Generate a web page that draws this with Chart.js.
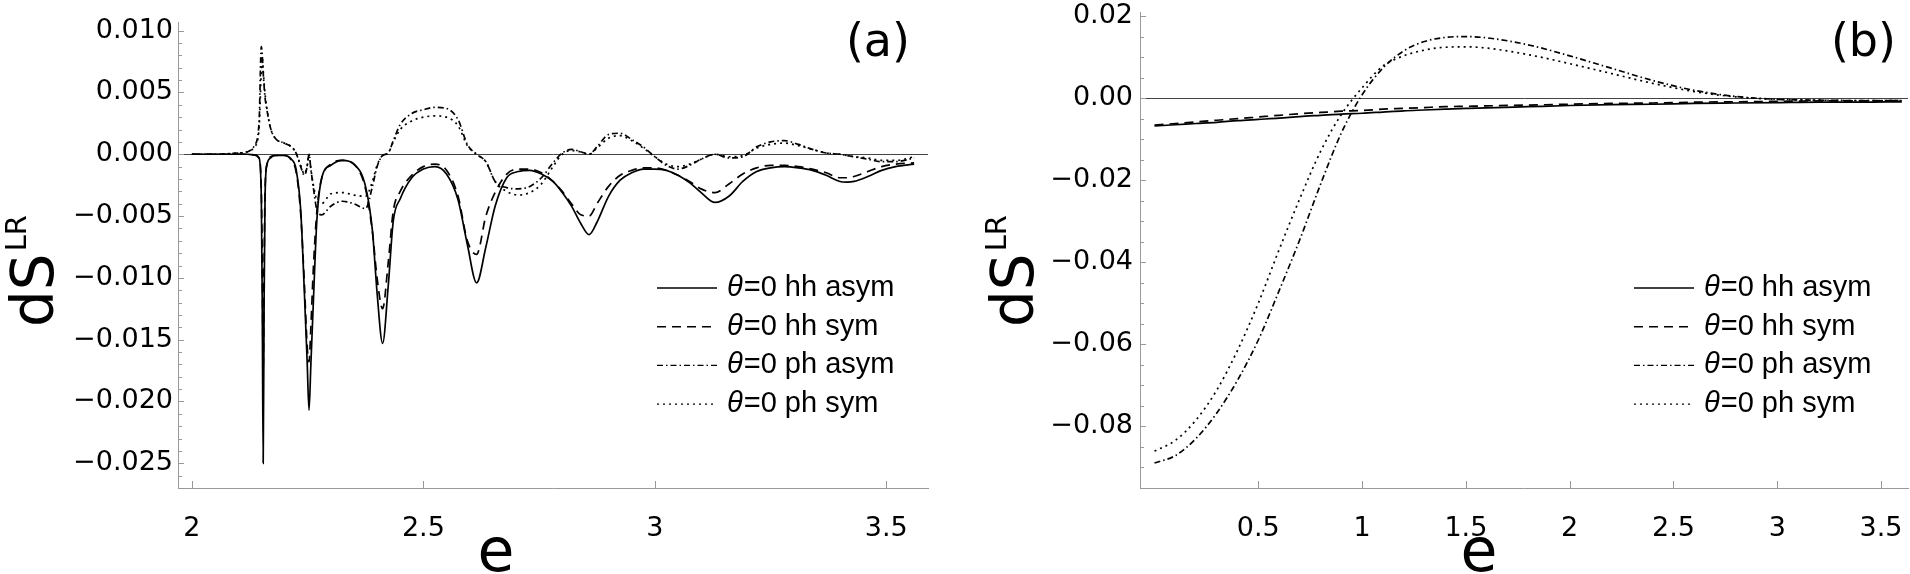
<!DOCTYPE html>
<html>
<head>
<meta charset="utf-8">
<script src="https://cdn.jsdelivr.net/npm/chart.js@4.4.1/dist/chart.umd.min.js"></script>
<style>
html,body{margin:0;padding:0;background:#fff;}
#wrap{position:relative;width:1910px;height:574px;overflow:hidden;}
.panel{position:absolute;top:0;width:955px;height:574px;}
</style>
</head>
<body>
<div id="wrap">
  <div class="panel" style="left:0"><canvas id="chartA" width="955" height="574"></canvas></div>
  <div class="panel" style="left:955px"><canvas id="chartB" width="955" height="574"></canvas></div>
</div>
<script>
// Data
const seriesNames = ['θ=0 hh asym', 'θ=0 hh sym', 'θ=0 ph asym', 'θ=0 ph sym'];

// panel (a)
const eA = [2.00, 2.05, 2.10, 2.12, 2.135, 2.145, 2.150, 2.152, 2.154, 2.156,
  2.158, 2.162, 2.17, 2.18, 2.20, 2.215, 2.225, 2.235, 2.243, 2.249,
  2.253, 2.257, 2.262, 2.27, 2.28, 2.30, 2.325, 2.35, 2.375, 2.39,
  2.40, 2.412, 2.424, 2.435, 2.45, 2.475, 2.50, 2.525, 2.55, 2.575,
  2.595, 2.615, 2.635, 2.655, 2.68, 2.705, 2.73, 2.755, 2.78, 2.80,
  2.82, 2.84, 2.858, 2.875, 2.90, 2.925, 2.95, 2.975, 3.00, 3.025,
  3.05, 3.075, 3.10, 3.13, 3.16, 3.19, 3.22, 3.25, 3.28, 3.31,
  3.34, 3.37, 3.40, 3.415, 3.43, 3.46, 3.49, 3.52, 3.56];
const hhAsymA = [0, 0, 0, 0, -0.00005, -0.0003, -0.0035, -0.012, -0.025, -0.012,
  -0.0035, -0.0009, -0.0003, -0.0001, -0.0001, -0.0004, -0.0012, -0.0045, -0.0112, -0.0168,
  -0.0207, -0.0170, -0.0123, -0.0053, -0.0020, -0.0009, -0.0005, -0.0008, -0.0026, -0.0062,
  -0.0112, -0.0153, -0.0107, -0.0054, -0.0036, -0.0019, -0.0012, -0.0010, -0.0016, -0.0037,
  -0.0073, -0.0104, -0.0075, -0.0042, -0.0019, -0.0014, -0.0013, -0.0016, -0.0022, -0.0031,
  -0.0042, -0.0056, -0.0065, -0.0055, -0.0034, -0.0021, -0.0015, -0.0012, -0.0012, -0.0013,
  -0.0017, -0.0023, -0.0031, -0.0039, -0.0034, -0.0022, -0.0014, -0.0011, -0.0010, -0.0011,
  -0.0013, -0.0017, -0.0022, -0.00225, -0.0022, -0.0018, -0.0013, -0.0010, -0.0008];
const hhSymA = [0, 0, 0, 0, -0.00005, -0.0003, -0.0030, -0.0090, -0.0175, -0.0090,
  -0.0030, -0.0008, -0.0002, -0.0001, -0.0001, -0.0005, -0.0014, -0.0048, -0.0105, -0.0155,
  -0.0168, -0.0140, -0.0095, -0.0046, -0.0020, -0.0008, -0.0005, -0.0008, -0.0028, -0.0063,
  -0.0100, -0.0125, -0.0088, -0.0046, -0.0030, -0.0017, -0.0010, -0.0008, -0.0013, -0.0034,
  -0.0070, -0.0081, -0.0050, -0.0031, -0.0016, -0.0012, -0.0012, -0.0015, -0.0022, -0.0030,
  -0.0040, -0.0049, -0.0050, -0.0040, -0.0026, -0.0017, -0.0013, -0.0011, -0.0011, -0.0013,
  -0.0017, -0.0022, -0.0028, -0.0031, -0.0024, -0.0016, -0.0011, -0.0009, -0.0009, -0.0010,
  -0.0012, -0.0015, -0.0019, -0.0019, -0.0018, -0.0014, -0.0010, -0.0008, -0.0007];
const phAsymA = [0, 0, 0.0001, 0.0002, 0.0007, 0.0025, 0.0087, 0.0080, 0.0066, 0.0055,
  0.0046, 0.0036, 0.0021, 0.0013, 0.0009, 0.0006, 0.0001, -0.0010, -0.0017, -0.0010,
  0.0000, -0.0012, -0.0026, -0.0045, -0.0049, -0.0042, -0.0038, -0.0040, -0.0044, -0.0026,
  -0.0010, -0.0001, 0.0001, 0.0011, 0.0024, 0.0033, 0.0036, 0.0038, 0.0037, 0.0028,
  0.0008, 0.0000, -0.0006, -0.0022, -0.0027, -0.0028, -0.0026, -0.0019, -0.0007, 0.0001,
  0.0004, 0.0002, 0.0000, 0.0006, 0.0016, 0.0017, 0.0012, 0.0006, -0.0002, -0.0009,
  -0.0012, -0.0009, -0.0004, 0.0000, -0.0003, -0.0002, 0.0006, 0.0010, 0.0011, 0.0008,
  0.0004, 0.0001, 0.0000, -0.0001, -0.0002, -0.0004, -0.0006, -0.0006, -0.0003];
const phSymA = [0, 0, 0.0001, 0.0002, 0.0006, 0.0020, 0.0068, 0.0078, 0.0068, 0.0058,
  0.0049, 0.0037, 0.0021, 0.0013, 0.0009, 0.0006, 0.0001, -0.0009, -0.0016, -0.0009,
  0.0000, -0.0012, -0.0024, -0.0037, -0.0040, -0.0032, -0.0031, -0.0033, -0.0034, -0.0022,
  -0.0009, -0.0001, 0.0001, 0.0010, 0.0020, 0.0027, 0.0030, 0.0031, 0.0030, 0.0023,
  0.0007, 0.0000, -0.0006, -0.0022, -0.0030, -0.0033, -0.0031, -0.0024, -0.0010, 0.0000,
  0.0003, 0.0002, 0.0000, 0.0005, 0.0013, 0.0015, 0.0011, 0.0005, -0.0002, -0.0008,
  -0.0010, -0.0008, -0.0004, 0.0000, -0.0002, -0.0001, 0.0005, 0.0008, 0.0009, 0.0007,
  0.0004, 0.0001, 0.0000, -0.0001, -0.0002, -0.0003, -0.0005, -0.0005, -0.0002];
const xTicksA = [2, 2.5, 3, 3.5];
const yTicksA = [0.010, 0.005, 0, -0.005, -0.010, -0.015, -0.020, -0.025];

// panel (b)
const eB = [0, 0.1, 0.2, 0.3, 0.4, 0.5, 0.6, 0.7, 0.8, 0.9, 1.0, 1.1, 1.2, 1.3,
  1.4, 1.5, 1.6, 1.8, 2.0, 2.2, 2.4, 2.6, 2.8, 3.0, 3.2, 3.4, 3.6];
const hhAsymB = [-0.0068, -0.0065, -0.0062, -0.0059, -0.0055, -0.0052, -0.0049, -0.0045, -0.0042, -0.0039,
  -0.0037, -0.0034, -0.0031, -0.0029, -0.0027, -0.0025, -0.0024, -0.0021, -0.0018, -0.0016,
  -0.0015, -0.0013, -0.0012, -0.0011, -0.0010, -0.0010, -0.0009];
const hhSymB = [-0.0066, -0.0062, -0.0058, -0.0054, -0.0050, -0.0046, -0.0042, -0.0038, -0.0035, -0.0032,
  -0.0030, -0.0027, -0.0025, -0.0023, -0.0021, -0.0020, -0.0019, -0.0017, -0.0015, -0.0013,
  -0.0012, -0.0010, -0.0009, -0.0008, -0.0007, -0.0007, -0.0006];
const phAsymB = [-0.0890, -0.0872, -0.0830, -0.0768, -0.0688, -0.0590, -0.0470, -0.0345, -0.0210, -0.0085,
  0.0008, 0.0073, 0.0115, 0.0138, 0.0148, 0.0150, 0.0147, 0.0130, 0.0103, 0.0073,
  0.0043, 0.0019, 0.0004, -0.0003, -0.0005, -0.0006, -0.0006];
const phSymB = [-0.0861, -0.0835, -0.0785, -0.0712, -0.0615, -0.0500, -0.0370, -0.0245, -0.0130, -0.0040,
  0.0025, 0.0078, 0.0103, 0.0117, 0.0124, 0.0125, 0.0122, 0.0106, 0.0084, 0.0060,
  0.0036, 0.0016, 0.0003, -0.0003, -0.0005, -0.0006, -0.0006];
const xTicksB = [0.5, 1, 1.5, 2, 2.5, 3, 3.5];
const yTicksB = [0.02, 0, -0.02, -0.04, -0.06, -0.08];

// Styles
const dashes = [[], [9, 6], [6, 3, 1.5, 3], [2, 4]];
const tickFont = {family: '"DejaVu Sans"', size: 27};

// axis ticks inside, legend, labels
const decor = {
  id: 'decor',
  afterDraw(chart, args, o) {
    const c = chart.ctx, ca = chart.chartArea, xs = chart.scales.x, ys = chart.scales.y;
    c.save();
    c.strokeStyle = '#999'; c.lineWidth = 1; c.setLineDash([]);
    c.beginPath();
    xs.ticks.forEach(t => {
      const p = Math.round(xs.getPixelForValue(t.value)) + 0.5;
      c.moveTo(p, ca.bottom); c.lineTo(p, ca.bottom - 7);
    });
    const k0 = Math.ceil(ys.min / o.minor - 1e-6), k1 = Math.floor(ys.max / o.minor + 1e-6);
    for (let k = k0; k <= k1; k++) {
      const p = Math.round(ys.getPixelForValue(k * o.minor)) + 0.5;
      c.moveTo(ca.left, p); c.lineTo(ca.left + (k % o.per === 0 ? 6 : 4), p);
    }
    c.stroke();

    // legend
    c.fillStyle = '#000'; c.textBaseline = 'middle'; c.textAlign = 'left';
    chart.data.datasets.forEach((ds, i) => {
      const y = o.legY + i * 38.7;
      c.strokeStyle = '#000'; c.lineWidth = 1.4; c.setLineDash(ds.borderDash);
      c.beginPath(); c.moveTo(o.legX, y); c.lineTo(o.legX + 60, y); c.stroke();
      c.setLineDash([]);
      c.font = 'italic 29px "Liberation Sans"';
      c.fillText(ds.label[0], o.legX + 70, y);
      const w = c.measureText(ds.label[0]).width;
      c.font = '29px "Liberation Sans"';
      c.fillText(ds.label.slice(1), o.legX + 71 + w, y);
    });

    // panel tag and axis titles
    c.textBaseline = 'alphabetic';
    c.font = '46px "DejaVu Sans"'; c.textAlign = 'right';
    c.fillText(o.tag, o.tagX, 56);
    c.font = '60px "DejaVu Sans"'; c.textAlign = 'center';
    c.fillText('e', o.eX, 571);
    c.translate(o.yTitleX, 272); c.rotate(-Math.PI / 2);
    c.textAlign = 'left';
    c.font = '58px "DejaVu Sans"'; const w1 = c.measureText('dS').width;
    c.font = '29px "DejaVu Sans"'; const w2 = c.measureText('LR').width;
    const x0 = -(w1 + w2) / 2;
    c.font = '58px "DejaVu Sans"'; c.fillText('dS', x0, 0);
    c.font = '29px "DejaVu Sans"'; c.fillText('LR', x0 + w1 + 2, -27);
    c.restore();
  }
};

function makeChart(id, xs, ysList, cfg) {
  const datasets = ysList.map((ys, i) => ({
    label: seriesNames[i],
    data: xs.map((x, j) => ({x, y: ys[j]})),
    borderColor: '#000',
    borderWidth: 1.7,
    borderDash: dashes[i],
    pointRadius: 0,
    cubicInterpolationMode: 'monotone',
    fill: false
  }));
  return new Chart(document.getElementById(id), {
    type: 'line',
    data: {datasets},
    plugins: [decor],
    options: {
      responsive: false,
      animation: false,
      events: [],
      layout: {padding: {left: 0, right: cfg.padRight, top: cfg.padTop, bottom: 0}},
      plugins: {legend: {display: false}, tooltip: {enabled: false}, decor: cfg.decor},
      scales: {
        x: {
          type: 'linear', min: cfg.xMin, max: cfg.xMax,
          afterBuildTicks: s => { s.ticks = cfg.xTicks.map(v => ({value: v})); },
          afterFit: s => { s.height = 86; s.paddingLeft = 0; s.paddingRight = 0; },
          grid: {display: false},
          border: {display: true, color: '#999', width: 1},
          ticks: {autoSkip: false, maxRotation: 0, padding: 17, color: '#000', font: tickFont,
            callback: v => String(v)}
        },
        y: {
          type: 'linear', min: cfg.yMin, max: cfg.yMax,
          afterBuildTicks: s => { s.ticks = cfg.yTicks.map(v => ({value: v})); },
          afterFit: s => { s.width = cfg.left; s.paddingTop = 0; s.paddingBottom = 0; },
          grid: {display: true, drawOnChartArea: true, drawTicks: false, lineWidth: 1,
            color: c => (c.tick && c.tick.value === 0) ? '#444' : 'rgba(0,0,0,0)'},
          border: {display: true, color: '#999', width: 1},
          ticks: {padding: cfg.yPad, color: '#000', font: tickFont,
            callback: v => (v < 0 ? '\u2212' : '') + Math.abs(v).toFixed(cfg.digits)}
        }
      }
    }
  });
}

makeChart('chartA', eA, [hhAsymA, hhSymA, phAsymA, phSymA], {
  xMin: 1.97, xMax: 3.59, yMin: -0.027, yMax: 0.0107,
  xTicks: xTicksA, yTicks: yTicksA, digits: 3,
  left: 178, padRight: 27, padTop: 22, yPad: 5,
  decor: {minor: 0.001, per: 5, legX: 657, legY: 288, tag: '(a)', tagX: 910, eX: 496, yTitleX: 53}
});

makeChart('chartB', eB, [hhAsymB, hhSymB, phAsymB, phSymB], {
  xMin: -0.07, xMax: 3.63, yMin: -0.0951, yMax: 0.021,
  xTicks: xTicksB, yTicks: yTicksB, digits: 2,
  left: 185, padRight: 2, padTop: 12, yPad: 7,
  decor: {minor: 0.005, per: 4, legX: 679, legY: 288, tag: '(b)', tagX: 941, eX: 524, yTitleX: 78}
});
</script>
</body>
</html>
